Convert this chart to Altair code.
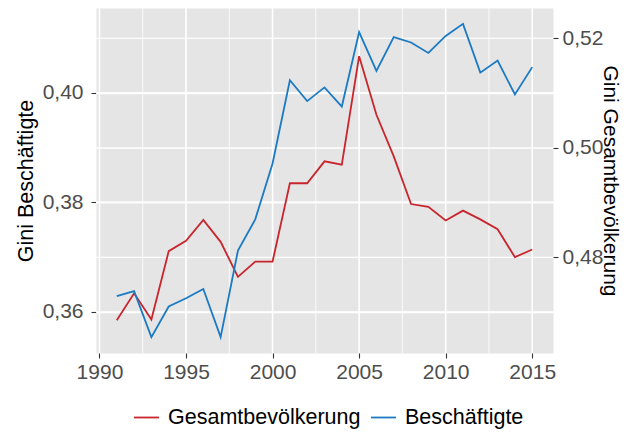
import altair as alt
import pandas as pd

years = list(range(1991, 2016))
gini_beschaeftigte = [0.3629, 0.3638, 0.3554, 0.3610, 0.3625, 0.3642, 0.3554, 0.3712, 0.3769,
                      0.3871, 0.4023, 0.3985, 0.4010, 0.3975, 0.4111, 0.4040, 0.4102, 0.4092,
                      0.4073, 0.4104, 0.4126, 0.4037, 0.4059, 0.3997, 0.4047]
gini_gesamt = [0.4685, 0.4734, 0.4686, 0.4811, 0.4830, 0.4868, 0.4828, 0.4764, 0.4792,
               0.4792, 0.4935, 0.4935, 0.4975, 0.4969, 0.5167, 0.5060, 0.4984, 0.4897,
               0.4892, 0.4867, 0.4885, 0.4869, 0.4851, 0.4800, 0.4814]
series_names = ["Gesamtbevölkerung", "Beschäftigte"]
series_colors = ["#C8252D", "#1B7AC4"]

# secondary axis (Gesamtbevölkerung) = primary axis + offset
sec_offset = 0.11

x_ticks = [1990, 1995, 2000, 2005, 2010, 2015]
x_minor = [1992.5, 1997.5, 2002.5, 2007.5, 2012.5]
left_ticks = [0.36, 0.38, 0.40]
left_minor = [0.37, 0.39, 0.41]
right_ticks = [0.48, 0.50, 0.52]

X_DOMAIN = [1989.8, 2016.2]
LEFT_DOMAIN = [0.3525, 0.4155]

df = pd.concat([
    pd.DataFrame({"year": years, "value": gini_gesamt, "series": series_names[0]}),
    pd.DataFrame({"year": years, "value": gini_beschaeftigte, "series": series_names[1]}),
])
vgrid = pd.DataFrame({"year": x_ticks + x_minor,
                      "w": [1.6] * len(x_ticks) + [0.8] * len(x_minor)})
hgrid = pd.DataFrame({"pos": left_ticks + left_minor,
                      "w": [1.6] * len(left_ticks) + [0.8] * len(left_minor),
                      "year": X_DOMAIN[0], "year_end": X_DOMAIN[1]})

FONT = "Liberation Sans"
odd_test = "round(datum.value * 100) % 2 == 1"

x_enc = alt.X(
    "year:Q",
    title=None,
    scale=alt.Scale(domain=X_DOMAIN, nice=False, zero=False),
    axis=alt.Axis(
        values=x_ticks,
        format="d",
        grid=False,
        domain=False,
        tickSize=5,
        tickWidth=1.1,
        tickColor="#333333",
        labelFont=FONT,
        labelFontSize=21,
        labelColor="#4D4D4D",
        labelPadding=3,
        labelFlush=False,
    ),
)
y_scale = alt.Scale(domain=LEFT_DOMAIN, nice=False, zero=False)

color_enc = alt.Color(
    "series:N",
    scale=alt.Scale(domain=series_names, range=series_colors),
    legend=alt.Legend(
        orient="none",
        legendX=37,
        legendY=396,
        direction="horizontal",
        title=None,
        symbolType="stroke",
        symbolSize=625,
        symbolStrokeWidth=1.8,
        labelFont=FONT,
        labelFontSize=21.5,
        labelColor="black",
        labelOffset=8,
        columnPadding=6,
        padding=0,
        labelLimit=0,
    ),
)

vgrid_layer = alt.Chart(vgrid).mark_rule(color="#FFFFFF").encode(
    x=x_enc,
    strokeWidth=alt.StrokeWidth("w:Q", scale=None, legend=None),
)

hgrid_layer = alt.Chart(hgrid).mark_rule(color="#FFFFFF").encode(
    x=x_enc,
    x2="year_end:Q",
    y=alt.Y("pos:Q", scale=y_scale, axis=None),
    strokeWidth=alt.StrokeWidth("w:Q", scale=None, legend=None),
)

red_line = alt.Chart(df).transform_filter(
    alt.datum.series == series_names[0]
).transform_calculate(
    pos=f"datum.value - {sec_offset}"
).mark_line(strokeWidth=1.8).encode(
    x=x_enc,
    y=alt.Y(
        "pos:Q",
        scale=y_scale,
        axis=alt.Axis(
            orient="right",
            title="Gini Gesamtbevölkerung",
            values=[round(v - sec_offset, 2) for v in right_ticks],
            labelExpr=f"replace(format(datum.value + {sec_offset}, '.2f'), '.', ',')",
            grid=False,
            domain=False,
            tickSize=5,
            tickWidth=1.1,
            tickColor="#333333",
            labelFont=FONT,
            labelFontSize=21,
            labelColor="#4D4D4D",
            labelPadding=4,
            titleFont=FONT,
            titleFontSize=21,
            titleFontWeight="normal",
            titleColor="black",
            titlePadding=-3,
        ),
    ),
    color=color_enc,
)

blue_line = alt.Chart(df).transform_filter(
    alt.datum.series == series_names[1]
).transform_calculate(
    pos="datum.value"
).mark_line(strokeWidth=1.8).encode(
    x=x_enc,
    y=alt.Y(
        "pos:Q",
        scale=y_scale,
        axis=alt.Axis(
            orient="left",
            title="Gini Beschäftigte",
            values=sorted(left_ticks + left_minor),
            labelExpr="round(datum.value * 100) % 2 == 0 ? replace(format(datum.value, '.2f'), '.', ',') : ''",
            tickOpacity={"condition": {"test": odd_test, "value": 0}, "value": 1},
            grid=True,
            gridColor="#FFFFFF",
            gridOpacity=1,
            gridWidth={"condition": {"test": odd_test, "value": 0.8}, "value": 1.6},
            domain=False,
            tickSize=5,
            tickWidth=1.1,
            tickColor="#333333",
            labelFont=FONT,
            labelFontSize=21,
            labelColor="#4D4D4D",
            labelPadding=8,
            titleFont=FONT,
            titleFontSize=21.5,
            titleFontWeight="normal",
            titleColor="black",
            titlePadding=5,
        ),
    ),
    color=color_enc,
)

chart = alt.layer(vgrid_layer, hgrid_layer, red_line, blue_line).resolve_axis(
    y="independent"
).properties(
    width=457,
    height=345,
    autosize=alt.AutoSizeParams(type="none"),
    padding={"left": 88, "top": 0, "right": 70, "bottom": 78},
    background="white",
).configure_view(fill="#E5E5E5", stroke="transparent")

chart.save("out.html", embed_options={"renderer": "svg", "actions": False})
